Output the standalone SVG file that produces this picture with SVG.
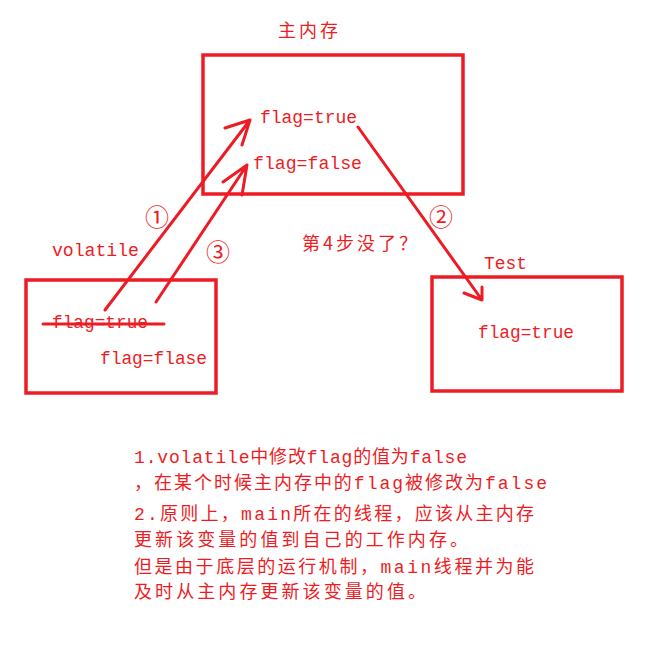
<svg xmlns="http://www.w3.org/2000/svg" width="669" height="662" viewBox="0 0 669 662">
<style>
.box{fill:none;stroke:#ED1C24;stroke-width:3.5}
.ln{fill:none;stroke:#ED1C24;stroke-width:3;stroke-linecap:round;stroke-linejoin:round}
text{fill:#ED1C24;font-family:"Liberation Mono","Noto Sans CJK SC",monospace;font-size:18px}
.cjk{font-family:"Noto Sans CJK SC","Liberation Mono",sans-serif}
.num{font-family:"Noto Sans CJK SC",sans-serif;font-size:24px}
</style>
<rect width="669" height="662" fill="#fff"/>
<g id="main-memory">
<rect class="box" x="203" y="55" width="260" height="139"/>
<text class="cjk" x="278" y="37" textLength="60" lengthAdjust="spacing">主内存</text>
<text x="260" y="123" textLength="97" lengthAdjust="spacingAndGlyphs">flag=true</text>
<text x="253" y="169" textLength="109" lengthAdjust="spacingAndGlyphs">flag=false</text>
</g>
<g id="volatile-thread">
<rect class="box" x="26" y="280" width="190" height="113"/>
<text x="52" y="256" textLength="87" lengthAdjust="spacingAndGlyphs">volatile</text>
<text x="52" y="328" textLength="96" lengthAdjust="spacingAndGlyphs">flag=true</text>
<line class="ln" x1="43" y1="324" x2="164" y2="324"/>
<text x="100" y="364" textLength="107" lengthAdjust="spacingAndGlyphs">flag=flase</text>
</g>
<g id="test-thread">
<rect class="box" x="432" y="277" width="190" height="114"/>
<text x="484" y="269" textLength="43" lengthAdjust="spacingAndGlyphs">Test</text>
<text x="478" y="338" textLength="96" lengthAdjust="spacingAndGlyphs">flag=true</text>
</g>
<g id="connectors">
<path class="ln" d="M105,310 L250,120 M225,128 L250,120 L242,145"/>
<path class="ln" d="M156,302 L247,165 M223,182 L247,165 L242,195"/>
<path class="ln" d="M358,127 L482,300 M464,293 L482,300 L482,287"/>
</g>
<g id="labels">
<text class="num" x="145" y="226">①</text>
<text class="num" x="206" y="261">③</text>
<text class="num" x="429" y="226">②</text>
<text class="cjk" x="302" y="250" textLength="115" lengthAdjust="spacing">第4步没了？</text>
</g>
<g id="notes">
<text x="134" y="463" textLength="333" lengthAdjust="spacing">1.volatile中修改flag的值为false</text>
<text x="134" y="489" textLength="413" lengthAdjust="spacing">，在某个时候主内存中的flag被修改为false</text>
<text x="134" y="520" textLength="400" lengthAdjust="spacing">2.原则上，main所在的线程，应该从主内存</text>
<text x="134" y="546" textLength="334" lengthAdjust="spacing">更新该变量的值到自己的工作内存。</text>
<text x="134" y="573" textLength="400" lengthAdjust="spacing">但是由于底层的运行机制，main线程并为能</text>
<text x="134" y="598" textLength="292" lengthAdjust="spacing">及时从主内存更新该变量的值。</text>
</g>
</svg>
